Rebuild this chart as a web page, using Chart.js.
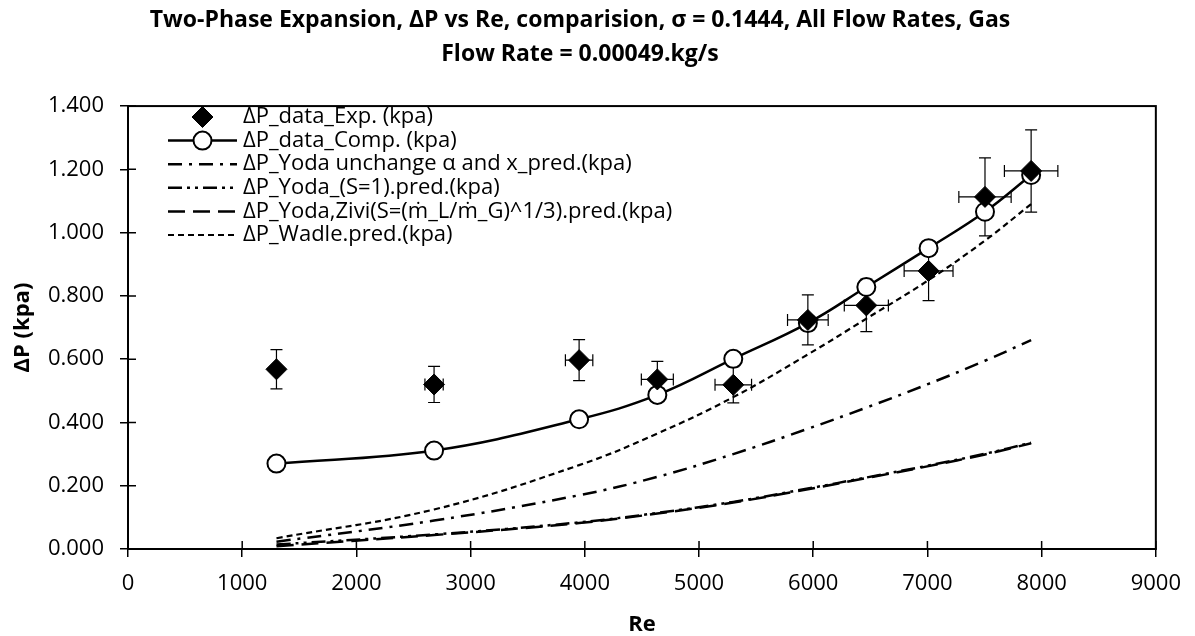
<!DOCTYPE html>
<html>
<head>
<meta charset="utf-8">
<script src="https://cdn.jsdelivr.net/npm/chart.js@4.4.1/dist/chart.umd.min.js"></script>
<style>
body { margin: 0; background: #fff; }
#wrap { width: 1195px; height: 636px; }
</style>
</head>
<body>
<div id="wrap"><canvas id="dpChart" width="1195" height="636"></canvas></div>
<script>
// values
var reValues = [1300, 2680, 3950, 4635, 5300, 5953, 6465, 7010, 7504, 7908];
var dpExp = [0.568, 0.520, 0.597, 0.536, 0.519, 0.724, 0.770, 0.879, 1.113, 1.195];
var dpExpErrY = [0.062, 0.057, 0.065, 0.057, 0.057, 0.079, 0.083, 0.094, 0.123, 0.130];
var reErrX = [0, 80, 120, 140, 160, 178, 193, 214, 229, 234];
var dpComp = [0.270, 0.311, 0.410, 0.487, 0.601, 0.714, 0.828, 0.951, 1.066, 1.182];
var dpYodaUnchange = [0.023, 0.090, 0.170, 0.228, 0.300, 0.380, 0.447, 0.522, 0.595, 0.660];
var dpYodaS1 = [0.014, 0.046, 0.084, 0.114, 0.149, 0.191, 0.226, 0.264, 0.301, 0.336];
var dpYodaZivi = [0.009, 0.044, 0.082, 0.112, 0.147, 0.189, 0.224, 0.262, 0.299, 0.334];
var dpWadle = [0.034, 0.125, 0.265, 0.365, 0.480, 0.615, 0.728, 0.850, 0.975, 1.090];

var seriesNames = [
    'ΔP_data_Exp. (kpa)',
    'ΔP_data_Comp. (kpa)',
    'ΔP_Yoda unchange α and x_pred.(kpa)',
    'ΔP_Yoda_(S=1).pred.(kpa)',
    'ΔP_Yoda,Zivi(S=(ṁ_L/ṁ_G)^1/3).pred.(kpa)',
    'ΔP_Wadle.pred.(kpa)'
];
var titleLines = [
    'Two-Phase Expansion, ΔP vs Re, comparision, σ = 0.1444, All Flow Rates, Gas',
    'Flow Rate = 0.00049.kg/s'
];

var fontFamily = "'Open Sans', 'Liberation Sans', sans-serif";

function toPoints(xs, ys) {
    return xs.map(function(x, i) { return { x: x, y: ys[i] }; });
}

function lineSet(label, ys, dash, order) {
    return {
        label: label,
        data: toPoints(reValues, ys),
        showLine: true,
        borderColor: '#000',
        borderWidth: 2.5,
        borderDash: dash,
        pointRadius: 0,
        tension: 0.4,
        fill: false,
        order: order
    };
}

// error bars for the experimental points, drawn under the circles and diamonds
var errorBars = {
    id: 'errorBars',
    beforeDatasetDraw: function(chart, args) {
        if (args.index !== 1) return;
        var ctx = chart.ctx, xs = chart.scales.x, ys = chart.scales.y;
        ctx.save();
        ctx.strokeStyle = '#000';
        ctx.lineWidth = 1.2;
        ctx.beginPath();
        reValues.forEach(function(re, i) {
            var px = xs.getPixelForValue(re);
            var py = ys.getPixelForValue(dpExp[i]);
            var top = ys.getPixelForValue(dpExp[i] + dpExpErrY[i]);
            var bot = ys.getPixelForValue(dpExp[i] - dpExpErrY[i]);
            ctx.moveTo(px, top); ctx.lineTo(px, bot);
            ctx.moveTo(px - 6, top); ctx.lineTo(px + 6, top);
            ctx.moveTo(px - 6, bot); ctx.lineTo(px + 6, bot);
            if (reErrX[i] > 0) {
                var l = xs.getPixelForValue(re - reErrX[i]);
                var r = xs.getPixelForValue(re + reErrX[i]);
                ctx.moveTo(l, py); ctx.lineTo(r, py);
                ctx.moveTo(l, py - 6); ctx.lineTo(l, py + 6);
                ctx.moveTo(r, py - 6); ctx.lineTo(r, py + 6);
            }
        });
        ctx.stroke();
        ctx.restore();
    }
};

// box around plot + inner half of the cross tick marks
var plotFrame = {
    id: 'plotFrame',
    afterDraw: function(chart) {
        var ctx = chart.ctx, a = chart.chartArea;
        ctx.save();
        ctx.strokeStyle = '#000';
        ctx.lineWidth = 2;
        ctx.strokeRect(a.left, a.top, a.right - a.left, a.bottom - a.top);
        ctx.lineWidth = 1.5;
        ctx.beginPath();
        chart.scales.y.ticks.forEach(function(t) {
            var py = chart.scales.y.getPixelForValue(t.value);
            ctx.moveTo(a.left, py); ctx.lineTo(a.left + 8, py);
        });
        chart.scales.x.ticks.forEach(function(t) {
            var px = chart.scales.x.getPixelForValue(t.value);
            ctx.moveTo(px, a.bottom); ctx.lineTo(px, a.bottom - 8);
        });
        ctx.stroke();
        ctx.restore();
    }
};

// legend drawn inside the plot, top-left
var insideLegend = {
    id: 'insideLegend',
    afterDraw: function(chart) {
        var ctx = chart.ctx;
        var x1 = 168, x2 = 237, xText = 243, y0 = 117, step = 23.6;
        ctx.save();
        ctx.font = '22px ' + fontFamily;
        ctx.textBaseline = 'middle';
        ctx.fillStyle = '#000';
        chart.data.datasets.forEach(function(ds, i) {
            var y = y0 + i * step;
            if (ds.showLine !== false) {
                ctx.save();
                ctx.strokeStyle = '#000';
                ctx.lineWidth = ds.borderWidth;
                ctx.setLineDash(ds.borderDash || []);
                ctx.beginPath();
                ctx.moveTo(x1, y); ctx.lineTo(x2, y);
                ctx.stroke();
                ctx.restore();
            }
            if (ds.pointRadius > 0) {
                ctx.save();
                ctx.fillStyle = ds.pointBackgroundColor;
                ctx.strokeStyle = ds.pointBorderColor;
                ctx.lineWidth = ds.pointBorderWidth;
                Chart.helpers.drawPoint(ctx, {
                    pointStyle: ds.pointStyle, radius: ds.pointRadius,
                    rotation: 0, borderWidth: ds.pointBorderWidth
                }, (x1 + x2) / 2, y);
                ctx.restore();
            }
            ctx.fillText(ds.label, xText, y);
        });
        ctx.restore();
    }
};

var ctx = document.getElementById('dpChart').getContext('2d');
var dpChart = new Chart(ctx, {
    type: 'scatter',
    data: {
        datasets: [
            {
                label: seriesNames[0],
                data: toPoints(reValues, dpExp),
                showLine: false,
                pointStyle: 'rectRot',
                pointRadius: 10.5,
                pointBackgroundColor: '#000',
                pointBorderColor: '#000',
                pointBorderWidth: 1,
                order: 0
            },
            {
                label: seriesNames[1],
                data: toPoints(reValues, dpComp),
                showLine: true,
                borderColor: '#000',
                borderWidth: 2.5,
                tension: 0.4,
                pointStyle: 'circle',
                pointRadius: 9,
                pointBackgroundColor: '#fff',
                pointBorderColor: '#000',
                pointBorderWidth: 2,
                order: 1
            },
            lineSet(seriesNames[2], dpYodaUnchange, [14, 7, 3, 7], 2),
            lineSet(seriesNames[3], dpYodaS1, [14, 5, 3, 5, 3, 5], 3),
            lineSet(seriesNames[4], dpYodaZivi, [17, 8], 4),
            Object.assign(lineSet(seriesNames[5], dpWadle, [6, 4], 5), { borderWidth: 2.2 })
        ]
    },
    options: {
        responsive: false,
        animation: false,
        layout: { padding: { left: 0, right: 35, top: 0, bottom: 0 } },
        plugins: {
            legend: { display: false },
            tooltip: { enabled: false },
            title: {
                display: true,
                text: titleLines,
                color: '#000',
                font: { family: fontFamily, size: 23, weight: 'bold', lineHeight: 1.48 },
                padding: { top: 3, bottom: 35 }
            }
        },
        scales: {
            x: {
                type: 'linear',
                min: 0,
                max: 9000,
                afterFit: function(s) { s.height = 87; },
                ticks: {
                    stepSize: 1000,
                    color: '#000',
                    padding: 14,
                    font: { family: fontFamily, size: 22 },
                    maxRotation: 0,
                    callback: function(v) { return String(v); }
                },
                grid: { drawOnChartArea: false, color: '#000', tickLength: 8, lineWidth: 1.5 },
                border: { color: '#000', width: 2 },
                title: {
                    display: true,
                    text: 'Re',
                    color: '#000',
                    font: { family: fontFamily, size: 22, weight: 'bold' },
                    padding: { top: 0, bottom: -2 }
                }
            },
            y: {
                min: 0,
                max: 1.4,
                afterFit: function(s) { s.width = 128; },
                ticks: {
                    stepSize: 0.2,
                    color: '#000',
                    padding: 16,
                    font: { family: fontFamily, size: 22 },
                    callback: function(v) { return v.toFixed(3); }
                },
                grid: { drawOnChartArea: false, color: '#000', tickLength: 8, lineWidth: 1.5 },
                border: { color: '#000', width: 2 },
                title: {
                    display: true,
                    text: 'ΔP (kpa)',
                    color: '#000',
                    font: { family: fontFamily, size: 22, weight: 'bold' },
                    padding: { top: 10, bottom: 0 }
                }
            }
        }
    },
    plugins: [errorBars, plotFrame, insideLegend]
});
</script>
</body>
</html>
